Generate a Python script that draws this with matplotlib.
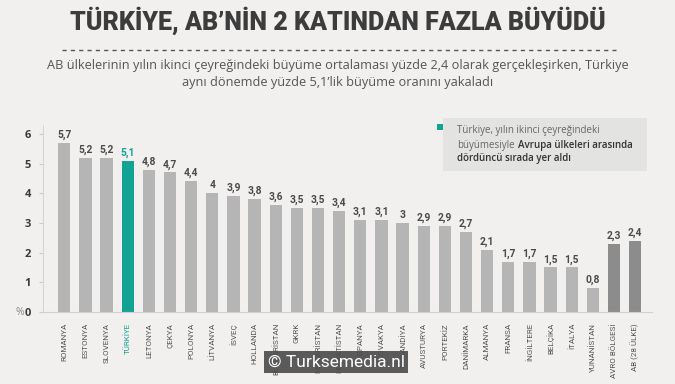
import matplotlib
matplotlib.use("Agg")
import matplotlib.pyplot as plt
from matplotlib.patches import Rectangle
from matplotlib.lines import Line2D

countries = [
    "ROMANYA", "ESTONYA", "SLOVENYA", "TÜRKİYE", "LETONYA", "ÇEKYA", "POLONYA",
    "LİTVANYA", "İSVEÇ", "HOLLANDA", "BULGARİSTAN", "GKRK", "MACARİSTAN",
    "HIRVATİSTAN", "İSPANYA", "SLOVAKYA", "FİNLANDİYA", "AVUSTURYA", "PORTEKİZ",
    "DANİMARKA", "ALMANYA", "FRANSA", "İNGİLTERE", "BELÇİKA", "İTALYA",
    "YUNANİSTAN", "AVRO BÖLGESİ", "AB (28 ÜLKE)",
]
growth = [5.7, 5.2, 5.2, 5.1, 4.8, 4.7, 4.4, 4.0, 3.9, 3.8, 3.6, 3.5, 3.5, 3.4,
          3.1, 3.1, 3.0, 2.9, 2.9, 2.7, 2.1, 1.7, 1.7, 1.5, 1.5, 0.8, 2.3, 2.4]
yticks = [0, 1, 2, 3, 4, 5, 6]

BG = "#f1f0ee"
GRAY = "#b5b5b5"
DARK_BAR = "#8c8c8c"
TEAL = "#12a394"
TEXT = "#4a4a4a"

plt.rcParams["font.family"] = ["Open Sans", "DejaVu Sans"]

fig = plt.figure(figsize=(6.75, 3.84), dpi=100, facecolor=BG)
ax = fig.add_axes([0.064, 0.1875, 0.902, 0.487])
ax.set_facecolor(BG)

colors = []
for name in countries:
    if name == "TÜRKİYE":
        colors.append(TEAL)
    elif name in ("AVRO BÖLGESİ", "AB (28 ÜLKE)"):
        colors.append(DARK_BAR)
    else:
        colors.append(GRAY)

x = list(range(len(countries)))
ax.bar(x, growth, width=0.58, color=colors, zorder=2)

for xi, val, name in zip(x, growth, countries):
    label = f"{val:g}".replace(".", ",")
    ax.text(xi, val + 0.1, label, ha="center", va="bottom", fontsize=7.4,
            fontweight="semibold", color=TEAL if name == "TÜRKİYE" else TEXT,
            family=["Roboto", "DejaVu Sans"])

ax.set_xlim(-1, 27.8)
ax.set_ylim(0, 6.3)
ax.set_yticks(yticks)
ax.set_yticklabels([str(t) for t in yticks], fontsize=8, fontweight="bold", color="#3a3a3a")
ax.set_xticks(x)
ax.set_xticklabels(countries, rotation=90, fontsize=5.8, color="#555555",
                   family=["Roboto", "DejaVu Sans"])
for lbl in ax.get_xticklabels():
    if lbl.get_text() == "TÜRKİYE":
        lbl.set_color(TEAL)
ax.tick_params(axis="x", length=0, pad=8)
ax.tick_params(axis="y", length=3, color="#cccccc", pad=6)
for side in ("top", "right"):
    ax.spines[side].set_visible(False)
ax.spines["left"].set_color("#d0d0d0")
ax.spines["bottom"].set_color("#d0d0d0")
ax.spines["left"].set_linewidth(0.6)
ax.spines["bottom"].set_linewidth(0.8)
ax.text(-0.031, -0.004, "%", transform=ax.transAxes, ha="right", va="center",
        fontsize=7.5, color="#8a8a8a")

# title block
fig.text(0.5, 0.945, "TÜRKİYE, AB’NİN 2 KATINDAN FAZLA BÜYÜDÜ", ha="center", va="center",
         fontsize=18, fontweight="black", color="#3c3c3c", family=["Roboto", "DejaVu Sans"])
fig.add_artist(Line2D([0.092, 0.912], [0.87, 0.87], transform=fig.transFigure,
                      color="#555555", linewidth=1.0, linestyle=(0, (3, 3))))
fig.text(0.5, 0.83, "AB ülkelerinin yılın ikinci çeyreğindeki büyüme ortalaması yüzde 2,4 olarak gerçekleşirken, Türkiye",
         ha="center", va="center", fontsize=9.2, color="#555555")
fig.text(0.5, 0.785, "aynı dönemde yüzde 5,1’lik büyüme oranını yakaladı",
         ha="center", va="center", fontsize=9.2, color="#555555")

# annotation box
fig.add_artist(Rectangle((443 / 675, 1 - 171 / 384), 204 / 675, 53 / 384,
                         transform=fig.transFigure, facecolor="#e3e3e1", edgecolor="none"))
fig.add_artist(Rectangle((437 / 675, 1 - 130 / 384), 6 / 675, 6 / 384,
                         transform=fig.transFigure, facecolor=TEAL, edgecolor="none"))
fig.text(457 / 675, 1 - 131 / 384, "Türkiye, yılın ikinci çeyreğindeki", ha="left", va="center",
         fontsize=7, color="#666666")
t2 = fig.text(457 / 675, 1 - 145 / 384, "büyümesiyle", ha="left", va="center",
              fontsize=7, color="#666666")
renderer = fig.canvas.get_renderer()
t2_box = t2.get_window_extent(renderer)
fig.text(t2_box.x1 / (6.75 * 100) + 3 / 675, 1 - 145 / 384, "Avrupa ülkeleri arasında",
         ha="left", va="center", fontsize=7, fontweight="semibold", color="#333333")
fig.text(457 / 675, 1 - 159 / 384, "dördüncü sırada yer aldı", ha="left", va="center",
         fontsize=7, fontweight="semibold", color="#333333")

# watermark
fig.text(336 / 675, 1 - 362 / 384, "© Turksemedia.nl", ha="center", va="center",
         fontsize=12.5, color="white", family=["Roboto", "DejaVu Sans"],
         bbox=dict(boxstyle="square,pad=0.2", facecolor="#4d4d4d", edgecolor="none", alpha=0.92))

fig.savefig("out.png", dpi=100, facecolor=BG)
